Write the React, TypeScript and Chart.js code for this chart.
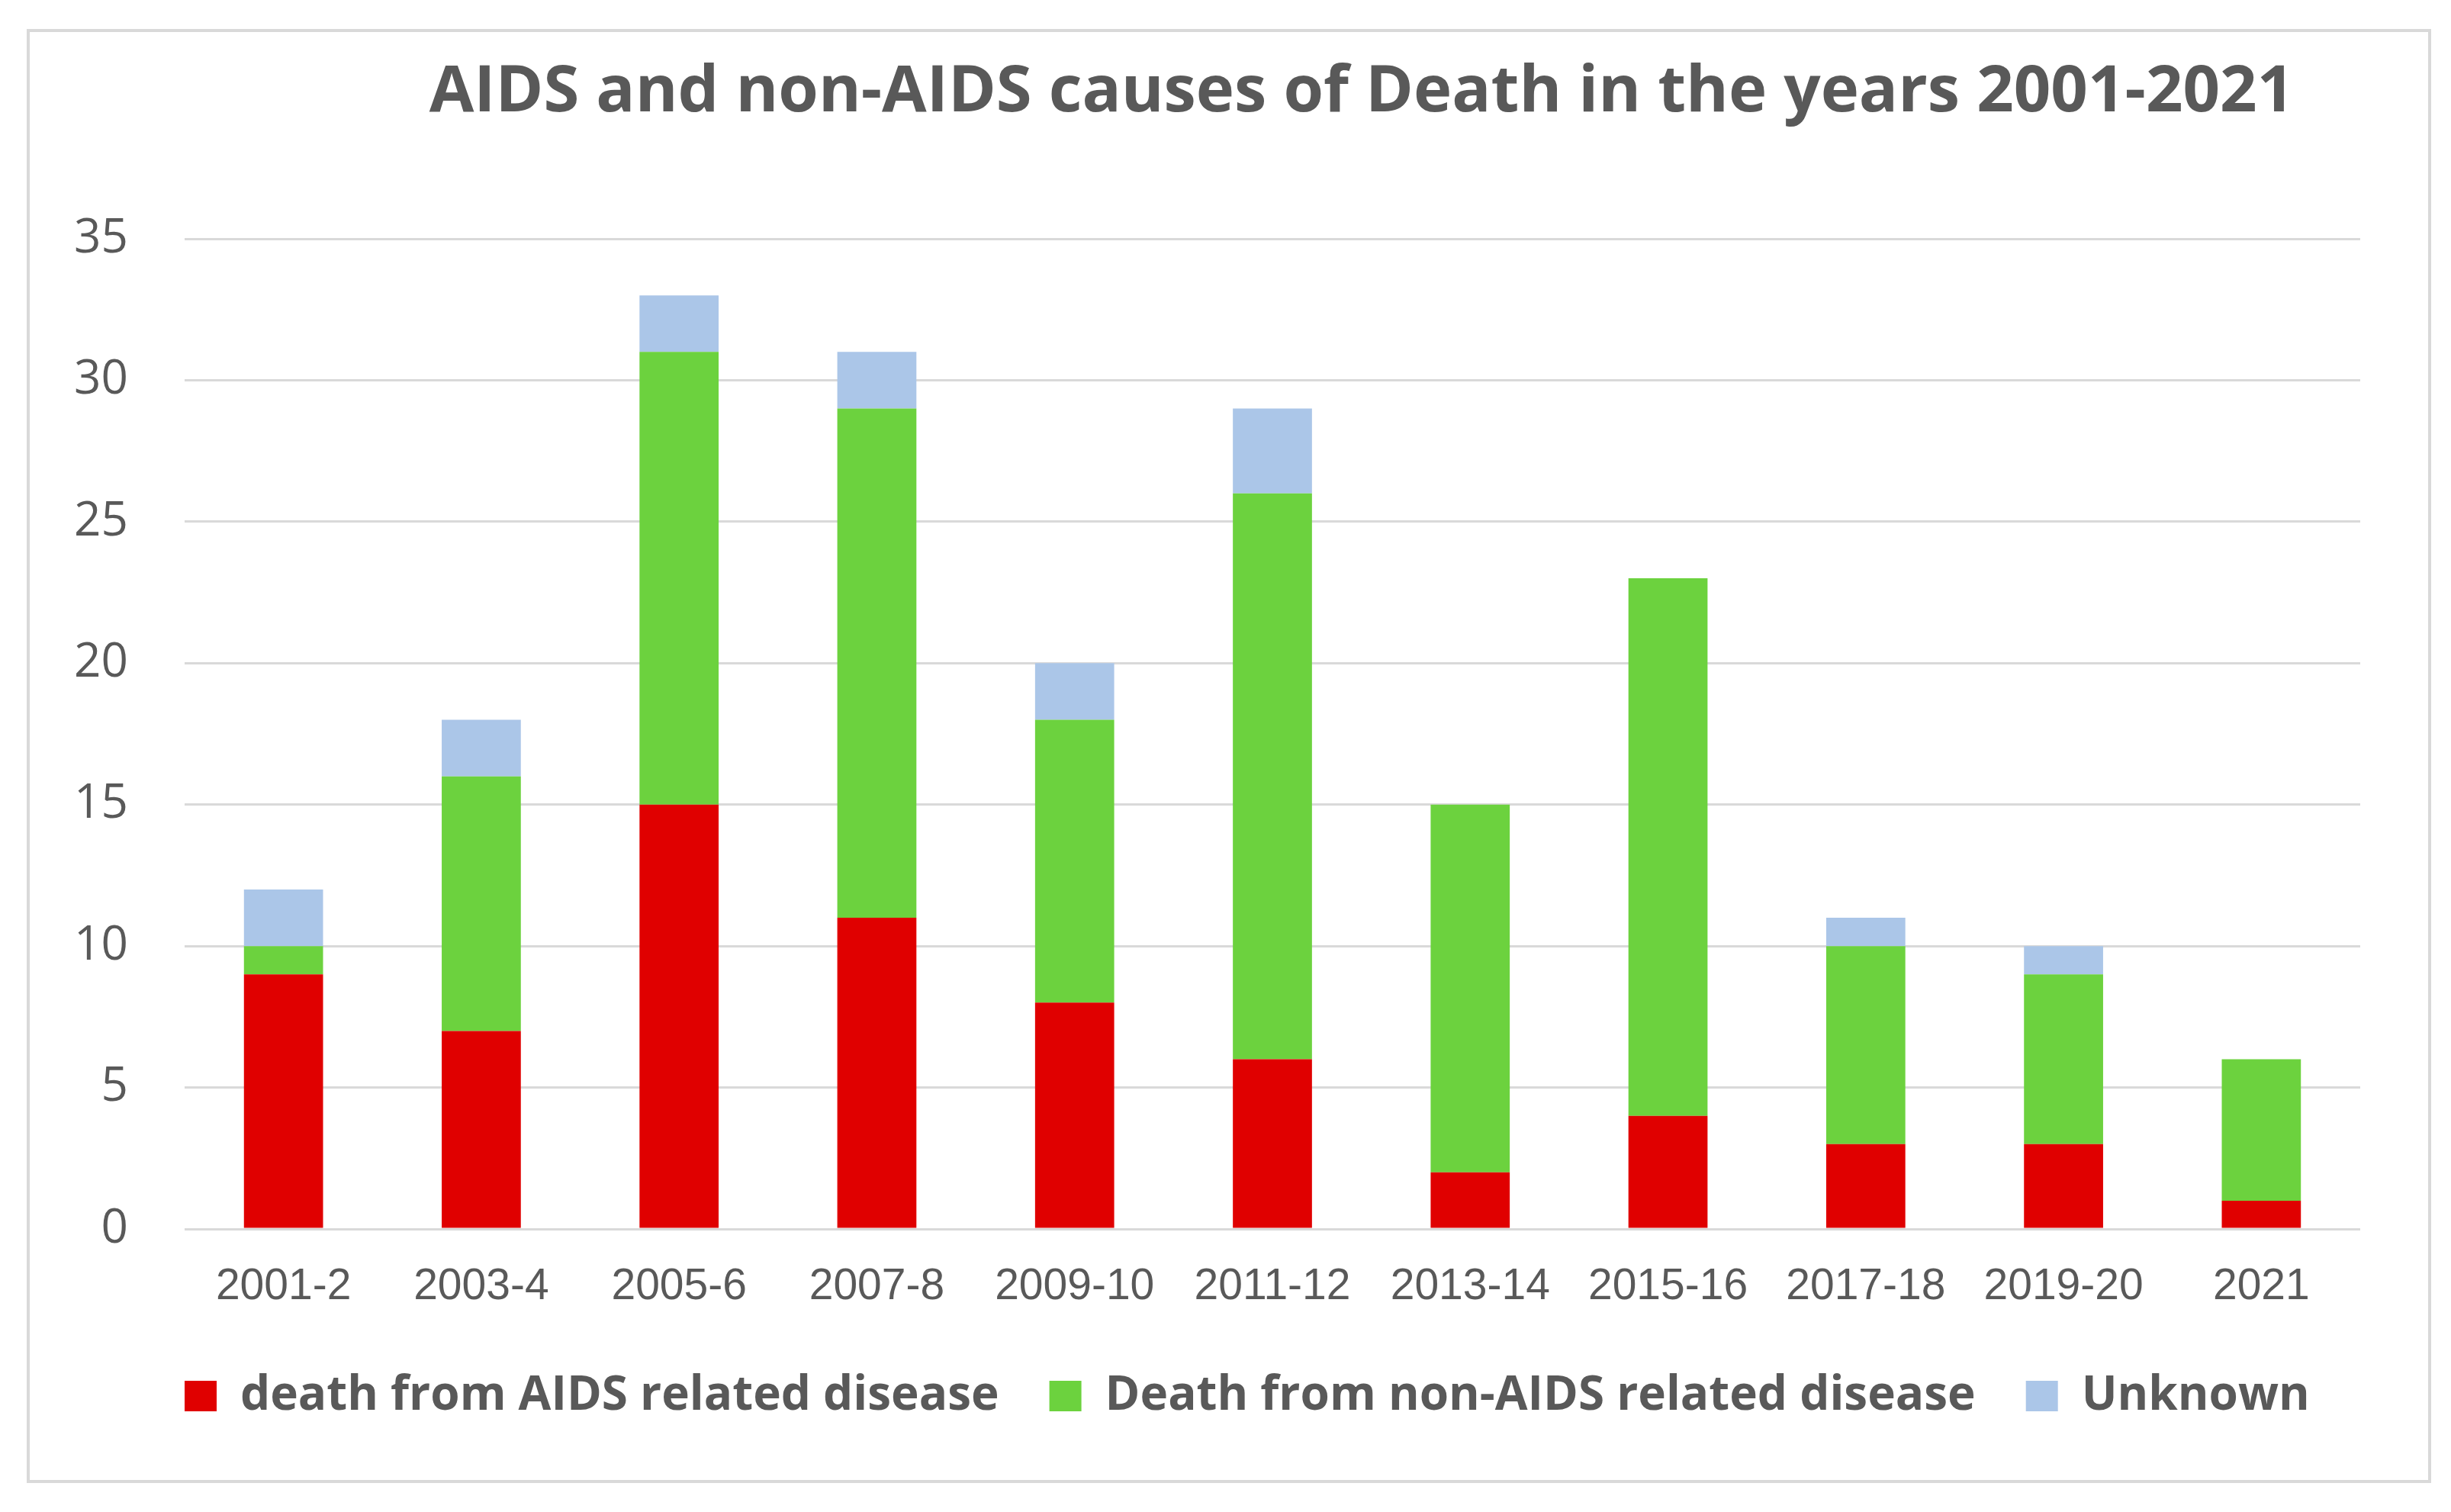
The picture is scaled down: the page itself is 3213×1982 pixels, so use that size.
import { useEffect, useRef } from "react";
import { Chart, registerables } from "chart.js";

Chart.register(...registerables);

const periods = [
  "2001-2",
  "2003-4",
  "2005-6",
  "2007-8",
  "2009-10",
  "2011-12",
  "2013-14",
  "2015-16",
  "2017-18",
  "2019-20",
  "2021",
];
const aidsDeaths = [9, 7, 15, 11, 8, 6, 2, 4, 3, 3, 1];
const nonAidsDeaths = [1, 9, 16, 18, 10, 20, 13, 19, 7, 6, 5];
const unknownDeaths = [2, 2, 2, 2, 2, 3, 0, 0, 1, 1, 0];

const chartTitle = "AIDS and non-AIDS causes of Death in the years 2001-2021";
const textGray = "#595959";
const gridGray = "#d9d9d9";
const legendGap = 66;

// the title sits off-centre in the original, so it is drawn by hand
const titlePlugin = {
  id: "offsetTitle",
  afterDraw(chart: Chart) {
    const { ctx } = chart;
    ctx.save();
    ctx.font = "bold 85px 'Open Sans'";
    ctx.fillStyle = textGray;
    ctx.textAlign = "center";
    ctx.textBaseline = "alphabetic";
    ctx.fillText(chartTitle, 1785, 146);
    ctx.restore();
  },
};

// legend starts flush with the plot area, not with the y axis labels
const legendAlignPlugin = {
  id: "legendAlign",
  afterLayout(chart: Chart) {
    const legend = (chart as any).legend;
    if (legend) legend.left = chart.chartArea.left - legendGap;
  },
};

export default function App() {
  const ref = useRef<HTMLCanvasElement>(null);

  useEffect(() => {
    if (!ref.current) return;
    const chart = new Chart(ref.current, {
      type: "bar",
      data: {
        labels: periods,
        datasets: [
          {
            label: "death from AIDS related disease",
            data: aidsDeaths,
            backgroundColor: "#e00000",
            borderWidth: 0,
          },
          {
            label: "Death from non-AIDS related disease",
            data: nonAidsDeaths,
            backgroundColor: "#6cd23e",
            borderWidth: 0,
          },
          {
            label: "Unknown",
            data: unknownDeaths,
            backgroundColor: "#abc6e8",
            borderWidth: 0,
          },
        ],
      },
      options: {
        animation: false,
        responsive: true,
        maintainAspectRatio: false,
        layout: {
          padding: { top: 313, left: 60, right: 119, bottom: 111 },
        },
        datasets: {
          bar: { categoryPercentage: 0.4, barPercentage: 1 },
        },
        plugins: {
          title: { display: false },
          tooltip: { enabled: false },
          legend: {
            position: "bottom",
            align: "start",
            labels: {
              boxWidth: 42,
              boxHeight: 40,
              padding: legendGap,
              color: textGray,
              font: { family: "'Open Sans'", size: 62, weight: "bold" },
            },
          },
        },
        scales: {
          x: {
            stacked: true,
            grid: { display: false },
            border: { display: false },
            afterFit: (scale) => {
              scale.height = 122;
            },
            ticks: {
              color: textGray,
              padding: 34,
              font: { family: "'Liberation Sans'", size: 57 },
            },
          },
          y: {
            stacked: true,
            min: 0,
            max: 35,
            border: { display: false },
            grid: { color: gridGray, lineWidth: 3, drawTicks: false },
            afterFit: (scale) => {
              scale.width = 182;
            },
            ticks: {
              stepSize: 5,
              color: textGray,
              padding: 74,
              font: { family: "'Open Sans'", size: 62 },
            },
          },
        },
      },
      plugins: [titlePlugin, legendAlignPlugin],
    });
    return () => {
      chart.destroy();
    };
  }, []);

  return (
    <div
      style={{
        position: "absolute",
        left: 0,
        top: 0,
        width: 3213,
        height: 1982,
        background: "#ffffff",
      }}
    >
      <div
        style={{
          position: "absolute",
          left: 35,
          top: 38,
          width: 3152,
          height: 1906,
          boxSizing: "border-box",
          border: `4px solid ${gridGray}`,
        }}
      />
      <div style={{ position: "absolute", left: 0, top: 0, width: 3213, height: 1982 }}>
        <canvas ref={ref} />
      </div>
    </div>
  );
}
